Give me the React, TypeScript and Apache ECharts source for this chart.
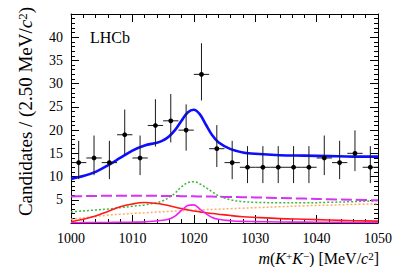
import React, { useEffect, useRef } from 'react';
import * as echarts from 'echarts';

// ---- data ----
const binCenters = [1001.25, 1003.75, 1006.25, 1008.75, 1011.25, 1013.75, 1016.25, 1018.75, 1021.25, 1023.75, 1026.25, 1028.75, 1031.25, 1033.75, 1036.25, 1038.75, 1041.25, 1043.75, 1046.25, 1048.75];
const counts = [13, 14, 13, 19, 14, 21, 22, 20, 32, 16, 13, 12, 12, 12, 12, 12, 14, 13, 15, 12];
const errLow = [3.55, 3.69, 3.55, 4.32, 3.69, 4.54, 4.65, 4.43, 5.62, 3.95, 3.55, 3.41, 3.41, 3.41, 3.41, 3.41, 3.69, 3.55, 3.83, 3.41];
const errHigh = [4.69, 4.83, 4.69, 5.43, 4.83, 5.65, 5.76, 5.54, 6.71, 5.08, 4.69, 4.55, 4.55, 4.55, 4.55, 4.55, 4.83, 4.69, 4.95, 4.55];
const binHalfWidth = 1.25;

const curveX = [1000, 1002, 1004, 1006, 1008, 1010, 1012, 1014, 1015, 1016, 1017, 1018, 1019, 1020, 1021, 1022, 1023, 1024, 1026, 1028, 1030, 1034, 1038, 1042, 1046, 1050];
const totalFit = [9.5, 10.1, 11.0, 12.4, 14.0, 15.6, 16.7, 17.3, 17.8, 18.7, 20.1, 22.0, 23.8, 24.4, 23.4, 21.1, 18.9, 17.4, 15.9, 15.2, 14.9, 14.6, 14.5, 14.4, 14.3, 14.3];
const greenComp = [2.4, 2.6, 2.8, 3.0, 3.3, 3.6, 3.9, 4.4, 4.8, 5.5, 6.5, 7.8, 8.7, 8.9, 8.4, 7.6, 6.7, 5.9, 5.0, 4.6, 4.45, 4.35, 4.35, 4.45, 4.6, 4.8];
const redComp = [0.3, 0.8, 1.5, 2.5, 3.5, 4.1, 4.4, 4.2, 4.0, 3.7, 3.4, 3.1, 2.85, 2.6, 2.4, 2.2, 2.05, 1.9, 1.6, 1.35, 1.2, 0.95, 0.8, 0.65, 0.5, 0.4];
const magentaPeak = [0.05, 0.07, 0.1, 0.12, 0.15, 0.18, 0.25, 0.45, 0.6, 0.85, 1.55, 2.7, 3.75, 3.9, 3.0, 2.0, 1.2, 0.8, 0.5, 0.35, 0.3, 0.22, 0.18, 0.15, 0.12, 0.1];
const magentaDashed = [5.72, 5.78, 5.83, 5.86, 5.88, 5.88, 5.87, 5.85, 5.83, 5.82, 5.8, 5.78, 5.76, 5.74, 5.72, 5.7, 5.68, 5.65, 5.6, 5.55, 5.5, 5.38, 5.25, 5.12, 5.0, 4.88];
const orangeComp = [0.8, 1.1, 1.4, 1.7, 1.9, 2.05, 2.2, 2.35, 2.42, 2.5, 2.57, 2.63, 2.7, 2.76, 2.82, 2.88, 2.93, 2.98, 3.08, 3.2, 3.3, 3.5, 3.7, 3.85, 4.0, 4.15];

const yTickLabels = [5, 10, 15, 20, 25, 30, 35, 40];

const FONT = '"Liberation Serif", "Times New Roman", serif';

function pairs(ys: number[]) {
  return curveX.map((x, i) => [x, ys[i]]);
}

export default function App() {
  const ref = useRef<HTMLDivElement>(null);
  useEffect(() => {
    if (!ref.current) return;
    const chart = echarts.init(ref.current, null, { renderer: 'svg' });
    const axisCommon = {
      type: 'value',
      axisLine: { show: true, onZero: false, lineStyle: { color: '#000', width: 1 } },
      axisTick: { show: true, inside: true, length: 8, lineStyle: { color: '#000', width: 1 } },
      minorTick: { show: true, splitNumber: 5, length: 4, lineStyle: { color: '#000', width: 1 } },
      splitLine: { show: false },
    };
    const xAx = { ...axisCommon, min: 1000, max: 1050, interval: 10 };
    const yAx = { ...axisCommon, min: 0, max: 45, interval: 5 };
    const lineSeries = (data: number[], color: string, width: number, type: any, z: number) => ({
      type: 'line',
      data: pairs(data),
      smooth: 0.35,
      showSymbol: false,
      symbol: 'none',
      silent: true,
      z,
      lineStyle: { color, width, type },
    });
    const points = binCenters.map((x, i) => [x, counts[i], counts[i] - errLow[i], counts[i] + errHigh[i]]);
    chart.setOption({
      animation: false,
      grid: { left: 71, right: 21, top: 14, bottom: 44, containLabel: false },
      xAxis: [
        {
          ...xAx,
          position: 'bottom',
          axisLabel: {
            color: '#000', fontFamily: FONT, fontSize: 14, margin: 8,
            formatter: (v: number) => String(v),
          },
        },
        { ...xAx, position: 'top', axisLabel: { show: false } },
      ],
      yAxis: [
        {
          ...yAx,
          position: 'left',
          axisLabel: {
            color: '#000', fontFamily: FONT, fontSize: 14, margin: 8,
            formatter: (v: number) => (yTickLabels.indexOf(v) >= 0 ? String(v) : ''),
          },
        },
        { ...yAx, position: 'right', axisLabel: { show: false } },
      ],
      graphic: [
        {
          type: 'text', left: 90, top: 29, silent: true,
          style: { text: 'LHCb', fill: '#000', font: '16px ' + FONT },
        },
        {
          type: 'text', x: 379, y: 258, silent: true,
          style: {
            text: '{i|m}({i|K}{s|+}{i|K}{s|−}) [MeV/{i|c}{s|2}]',
            fill: '#000', font: '16px ' + FONT, textAlign: 'right', textVerticalAlign: 'middle',
            rich: {
              i: { fontFamily: FONT, fontSize: 16, fontStyle: 'italic', fill: '#000' },
              s: { fontFamily: FONT, fontSize: 11, verticalAlign: 'top', fill: '#000' },
            },
          },
        },
        {
          type: 'text', x: 25, y: 7, rotation: Math.PI / 2, silent: true,
          style: {
            text: 'Candidates / (2.50 MeV/{i|c}{s|2})',
            fill: '#000', font: '19px ' + FONT, textAlign: 'right', textVerticalAlign: 'middle',
            rich: {
              i: { fontFamily: FONT, fontSize: 19, fontStyle: 'italic', fill: '#000' },
              s: { fontFamily: FONT, fontSize: 13, verticalAlign: 'top', fill: '#000' },
            },
          },
        },
      ],
      series: [
        lineSeries(orangeComp, '#ffad66', 1.5, [2, 2], 2),
        lineSeries(greenComp, '#3cb83c', 1.5, [2, 2], 2),
        lineSeries(magentaDashed, '#d633f5', 2, [11, 4], 2),
        lineSeries(redComp, '#ff1a1a', 1.6, 'solid', 3),
        lineSeries(magentaPeak, '#ee22ee', 1.6, 'solid', 3),
        lineSeries(totalFit, '#0d0dff', 2.6, 'solid', 4),
        {
          type: 'custom',
          z: 5,
          silent: true,
          data: points,
          renderItem: (params: any, api: any) => {
            const x = api.value(0);
            const y = api.value(1);
            const lo = api.value(2);
            const hi = api.value(3);
            const c = api.coord([x, y]);
            const l = api.coord([x - binHalfWidth, y]);
            const r = api.coord([x + binHalfWidth, y]);
            const t = api.coord([x, hi]);
            const b = api.coord([x, lo]);
            const stroke = { stroke: '#1a1a1a', lineWidth: 1 };
            return {
              type: 'group',
              children: [
                { type: 'line', shape: { x1: l[0], y1: l[1], x2: r[0], y2: r[1] }, style: stroke },
                { type: 'line', shape: { x1: t[0], y1: t[1], x2: b[0], y2: b[1] }, style: stroke },
                { type: 'circle', shape: { cx: c[0], cy: c[1], r: 2.4 }, style: { fill: '#000' } },
              ],
            };
          },
        },
      ],
    });
    return () => chart.dispose();
  }, []);
  return (
    <div
      ref={ref}
      style={{ position: 'fixed', left: 0, top: 0, width: 399, height: 267, background: '#fff' }}
    />
  );
}
